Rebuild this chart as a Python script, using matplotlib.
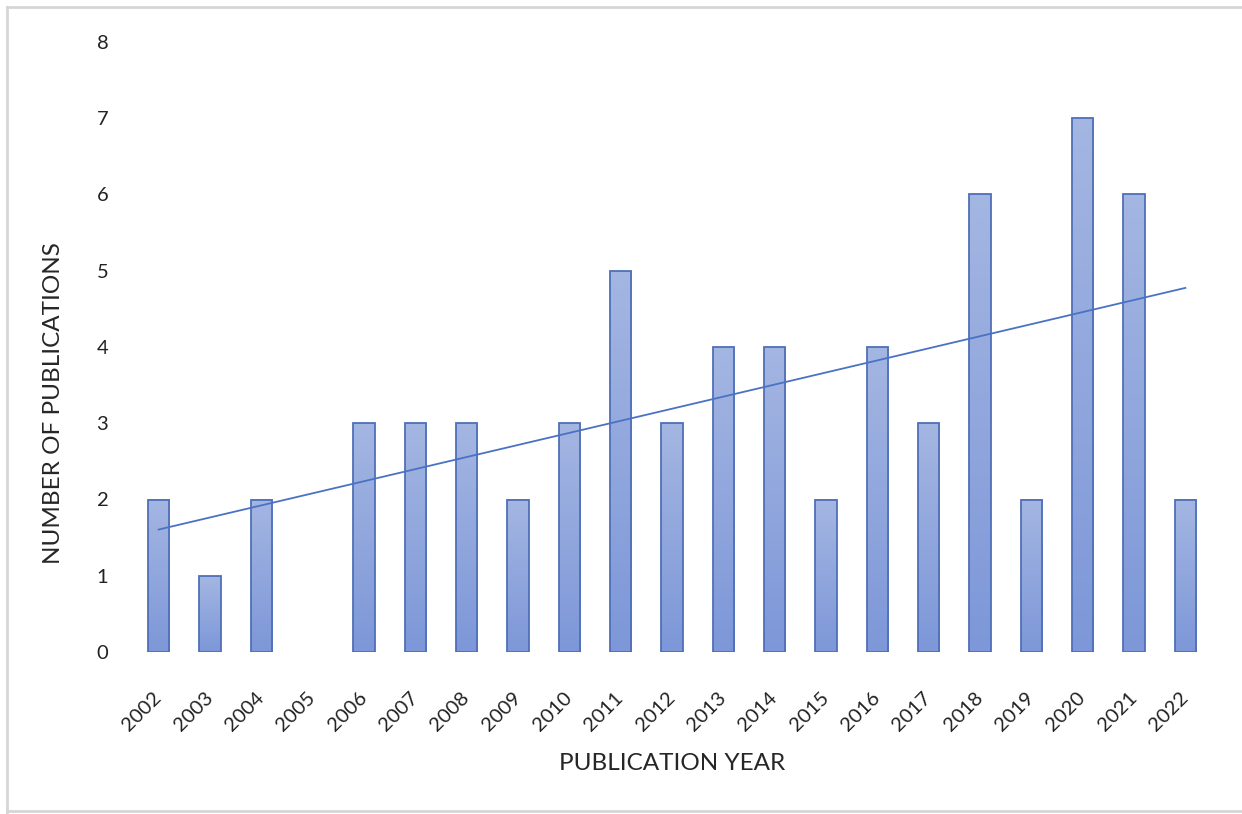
import numpy as np
import matplotlib
matplotlib.use("Agg")
import matplotlib.pyplot as plt
from matplotlib.colors import LinearSegmentedColormap
from matplotlib.lines import Line2D

years = [str(y) for y in range(2002, 2023)]
counts = [2, 1, 2, 0, 3, 3, 3, 2, 3, 5, 3, 4, 4, 2, 4, 3, 6, 2, 7, 6, 2]
y_ticks = [0, 1, 2, 3, 4, 5, 6, 7, 8]

plt.rcParams['font.family'] = ['Lato', 'DejaVu Sans']

W, H = 1242, 814
fig = plt.figure(figsize=(W / 100, H / 100), dpi=100)
ax = fig.add_axes([133 / W, 1 - 652 / H, (1211 - 133) / W, (652 - 42) / H])

x = np.arange(len(years))
bars = ax.bar(x, counts, width=0.41, facecolor='none', edgecolor='#4f6fb8',
              linewidth=1.3, zorder=3)

cmap = LinearSegmentedColormap.from_list('g', ['#7d97d8', '#a4b6e2'])
grad = np.linspace(0, 1, 256).reshape(-1, 1)
for b in bars:
    h = b.get_height()
    if h <= 0:
        b.set_visible(False)
        continue
    x0 = b.get_x()
    w = b.get_width()
    im = ax.imshow(grad, cmap=cmap, aspect='auto', origin='lower',
                   extent=[x0, x0 + w, 0, h], zorder=2, interpolation='bilinear')
    im.set_clip_path(b)

slope, intercept = np.polyfit(x, counts, 1)
ax.plot(x, slope * x + intercept, color='#4a72c4', linewidth=1.3, zorder=4)

ax.set_xlim(-0.5, len(years) - 0.5)
ax.set_ylim(0, 8)
ax.set_yticks(y_ticks)
ax.set_yticklabels([str(t) for t in y_ticks], fontsize=14.5, color='#222222', ha='center')
ax.set_xticks(x)
ax.set_xticklabels(years, rotation=45, ha='right', va='center', rotation_mode='anchor',
                   fontsize=14.5, color='#222222')
ax.tick_params(axis='both', length=0)
ax.tick_params(axis='y', pad=22)
ax.tick_params(axis='x', pad=31)
for s in ax.spines.values():
    s.set_visible(False)

ax.set_xlabel('PUBLICATION YEAR', fontsize=17.5, color='#262626')
ax.xaxis.set_label_coords(0.5, -(764 - 652) / (652 - 42), transform=ax.transAxes)
ax.xaxis.label.set_va('center')
ax.set_ylabel('NUMBER OF PUBLICATIONS', fontsize=17.5, color='#262626')
ax.yaxis.set_label_coords(-(133 - 54) / (1211 - 133), (652 - 403) / (652 - 42),
                          transform=ax.transAxes)
ax.yaxis.label.set_va('center')

# outer border
bc = '#d6d6d6'
fig.add_artist(Line2D([7 / W, 7 / W], [0, 1 - 7 / H], color=bc, lw=2, transform=fig.transFigure))
fig.add_artist(Line2D([7 / W, 1], [1 - 7 / H, 1 - 7 / H], color=bc, lw=2, transform=fig.transFigure))
fig.add_artist(Line2D([7 / W, 1], [1 - 811 / H, 1 - 811 / H], color=bc, lw=2, transform=fig.transFigure))

fig.savefig('out.png', dpi=100)
